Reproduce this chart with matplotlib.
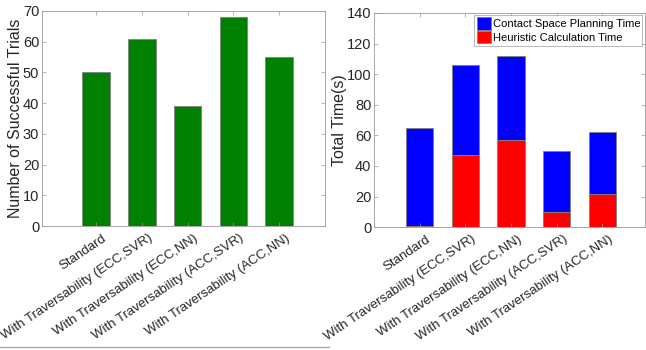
import numpy as np
import matplotlib.pyplot as plt
from matplotlib.transforms import ScaledTranslation

plt.rcParams['font.family'] = ['Liberation Sans', 'DejaVu Sans']

methods = ['Standard', 'With Traversability (ECC,SVR)', 'With Traversability (ECC,NN)',
           'With Traversability (ACC,SVR)', 'With Traversability (ACC,NN)']
successes = [50, 61, 39, 68, 55]
heuristic_time = [1, 47.2, 56.9, 9.8, 21.7]
total_time = [64.7, 105.7, 111.8, 49.7, 62.5]
contact_time = [t - h for t, h in zip(total_time, heuristic_time)]

x = np.arange(1, len(methods) + 1)
edge = '#808080'
txt = '#262626'

fig = plt.figure(figsize=(6.46, 3.5), dpi=100)
ax1 = fig.add_axes([0.065, 0.354, 0.438, 0.615])
ax2 = fig.add_axes([0.579, 0.351, 0.419, 0.612])

ax1.bar(x, successes, width=0.6, color='#008000', edgecolor=edge, linewidth=0.6)
ax1.set_xlim(-0.18, 6)
ax1.set_ylim(0, 70)
ax1.set_yticks(range(0, 71, 10))
ax1.set_ylabel('Number of Successful Trials', fontsize=11.5, color=txt, labelpad=0)

ax2.bar(x, contact_time, bottom=heuristic_time, width=0.6, color='#0000FF',
        edgecolor=edge, linewidth=0.6, label='Contact Space Planning Time')
ax2.bar(x, heuristic_time, width=0.6, color='#FF0000', edgecolor=edge,
        linewidth=0.6, label='Heuristic Calculation Time')
ax2.set_xlim(0, 5.93)
ax2.set_ylim(0, 140)
ax2.set_yticks(range(0, 141, 20))
ax2.set_ylabel('Total Time(s)', fontsize=11.5, color=txt, labelpad=0)
leg = ax2.legend(loc='upper right', fontsize=8, frameon=True, fancybox=False,
                 borderaxespad=0.2, handlelength=1.3, handleheight=1.3,
                 handletextpad=0.15, borderpad=0.2, labelspacing=0.15)
leg.get_frame().set_edgecolor('#999999')
leg.get_frame().set_linewidth(0.6)

# category labels, nudged a bit right of the ticks like the original
shift = ScaledTranslation(6 / 100, -6 / 100, fig.dpi_scale_trans)
for ax in (ax1, ax2):
    ax.set_xticks(x)
    ax.set_xticklabels([])
    for xi, name in zip(x, methods):
        ax.text(xi, 0, name, transform=ax.get_xaxis_transform() + shift,
                rotation=34, ha='right', va='top', rotation_mode='anchor',
                fontsize=9.5, color=txt)
    ax.tick_params(direction='in', top=True, right=True, length=3, width=0.5,
                   color='#999999', labelcolor=txt, pad=3)
    ax.tick_params(axis='y', labelsize=10.5, pad=2)
    for s in ax.spines.values():
        s.set_color('#999999')
        s.set_linewidth(0.6)

fig.add_artist(plt.Line2D([0.0, 0.51], [0.008, 0.008], color='#aaaaaa', linewidth=1))

fig.savefig('out.png', dpi=100)
